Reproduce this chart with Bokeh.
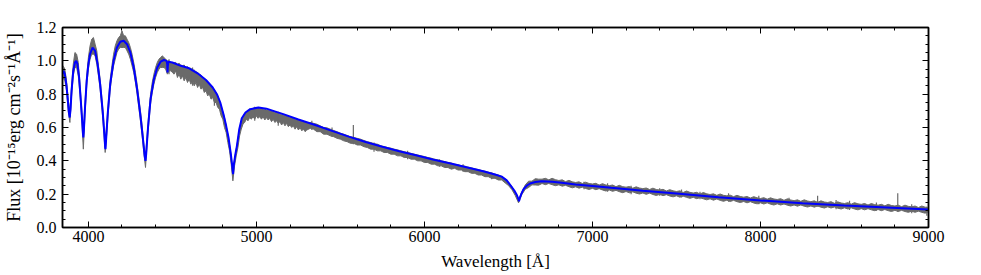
from bokeh.plotting import figure
from bokeh.models import Range1d, LinearAxis, SingleIntervalTicker, PrintfTickFormatter, CustomJSTickFormatter
from bokeh.embed import file_html
from bokeh.resources import INLINE

# ---------------- data ----------------
x_ticks_interval = 1000
y_ticks_interval = 0.2
x_label = "Wavelength [Å]"
y_label = "Flux [10⁻¹⁵erg cm⁻²s⁻¹Å⁻¹]"

# best-fit model spectrum (blue)
model_wave = [3846, 3852, 3860, 3870, 3878, 3884, 3889, 3894, 3900, 3910,
              3920, 3928, 3935, 3945, 3955, 3963, 3968, 3970, 3973, 3980,
              3990, 4000, 4010, 4025, 4040, 4055, 4070, 4085, 4095, 4100,
              4102, 4105, 4115, 4130, 4150, 4170, 4190, 4210, 4230, 4250,
              4270, 4290, 4310, 4325, 4335, 4340, 4344, 4355, 4370, 4390,
              4410, 4430, 4450, 4465, 4469, 4471, 4473, 4477, 4500, 4550,
              4600, 4650, 4700, 4740, 4765, 4785, 4804, 4820, 4834, 4848,
              4856, 4861, 4866, 4875, 4884, 4898, 4913, 4935, 4963, 5012,
              5060, 5100, 5160, 5250, 5350, 5450, 5550, 5650, 5750, 5850,
              5950, 6050, 6150, 6250, 6350, 6420, 6460, 6490, 6511, 6535,
              6550, 6558, 6563, 6568, 6578, 6590, 6610, 6629, 6660, 6698,
              6760, 6817, 6900, 7000, 7112, 7300, 7500, 7750, 8000, 8250,
              8500, 8750, 9000]
model_flux = [0.92, 0.94, 0.92, 0.85, 0.76, 0.69, 0.66, 0.71, 0.82, 0.94,
              0.99, 1.00, 0.98, 0.90, 0.76, 0.64, 0.56, 0.54, 0.58, 0.72,
              0.88, 0.98, 1.04, 1.08, 1.06, 0.98, 0.86, 0.70, 0.56, 0.48,
              0.47, 0.52, 0.68, 0.86, 1.00, 1.08, 1.115, 1.12, 1.10, 1.05,
              0.96, 0.83, 0.67, 0.53, 0.43, 0.40, 0.44, 0.60, 0.77, 0.89,
              0.96, 0.995, 1.005, 1.00, 0.98, 0.93, 0.97, 0.995, 0.99, 0.97,
              0.955, 0.925, 0.885, 0.84, 0.80, 0.75, 0.68, 0.61, 0.54, 0.44,
              0.37, 0.32, 0.38, 0.44, 0.49, 0.59, 0.655, 0.69, 0.71, 0.72,
              0.713, 0.70, 0.68, 0.648, 0.615, 0.58, 0.545, 0.513, 0.485, 0.458,
              0.433, 0.408, 0.385, 0.361, 0.338, 0.318, 0.305, 0.283, 0.255, 0.222,
              0.195, 0.175, 0.158, 0.178, 0.205, 0.23, 0.252, 0.264, 0.273, 0.278,
              0.275, 0.268, 0.258, 0.249, 0.238, 0.221, 0.204, 0.182, 0.162, 0.146,
              0.132, 0.12, 0.108]

# observed spectrum (grey): lower / upper envelope of the noisy trace
obs_wave_blue = [3846, 3850, 3860, 3870, 3880, 3890, 3900, 3910, 3920, 3930,
                 3940, 3950, 3960, 3970, 3980, 3990, 4000, 4010, 4020, 4030,
                 4040, 4050, 4060, 4070, 4080, 4090, 4100, 4110, 4120, 4130,
                 4140, 4150, 4160, 4170, 4180, 4190, 4200, 4210, 4220, 4230,
                 4240, 4250, 4260, 4270, 4280, 4290, 4300, 4310, 4320, 4330,
                 4340, 4350, 4360, 4370, 4380, 4390, 4400, 4410, 4420, 4430,
                 4440, 4450, 4460, 4470, 4480, 4490, 4500]
obs_lo_blue = [0.88, 0.90, 0.88, 0.82, 0.70, 0.63, 0.79, 0.91, 0.96, 0.96,
               0.91, 0.80, 0.66, 0.47, 0.68, 0.85, 0.95, 1.01, 1.04, 1.04,
               1.03, 0.98, 0.91, 0.83, 0.72, 0.60, 0.45, 0.57, 0.71, 0.83,
               0.91, 0.97, 1.01, 1.05, 1.07, 1.08, 1.08, 1.08, 1.08, 1.06,
               1.04, 1.01, 0.97, 0.93, 0.87, 0.80, 0.72, 0.64, 0.55, 0.45,
               0.36, 0.51, 0.63, 0.74, 0.81, 0.86, 0.90, 0.93, 0.95, 0.96,
               0.96, 0.96, 0.95, 0.92, 0.94, 0.94, 0.93]
obs_hi_blue = [0.95, 0.97, 0.95, 0.88, 0.77, 0.69, 0.85, 0.98, 1.05, 1.04,
               0.99, 0.86, 0.72, 0.56, 0.75, 0.91, 1.02, 1.09, 1.13, 1.14,
               1.10, 1.06, 0.97, 0.89, 0.78, 0.66, 0.50, 0.63, 0.77, 0.89,
               0.97, 1.04, 1.09, 1.12, 1.14, 1.15, 1.18, 1.15, 1.15, 1.13,
               1.11, 1.08, 1.04, 0.99, 0.93, 0.86, 0.78, 0.70, 0.61, 0.50,
               0.42, 0.56, 0.69, 0.80, 0.87, 0.92, 0.96, 0.99, 1.01, 1.02,
               1.03, 1.02, 1.01, 1.00, 1.00, 0.99, 0.99]

obs_wave_green = [4510, 4520, 4530, 4540, 4550, 4560, 4570, 4580, 4590, 4600,
                  4610, 4620, 4630, 4640, 4650, 4660, 4670, 4680, 4690, 4700,
                  4710, 4720, 4730, 4740, 4750, 4760, 4770, 4780, 4790, 4800,
                  4810, 4820, 4830, 4840, 4850, 4860, 4870, 4880, 4890, 4900,
                  4910, 4920, 4930, 4940, 4950, 4960, 4970, 4980, 4990, 5000,
                  5010, 5020, 5030, 5040, 5050, 5060, 5070, 5080, 5090, 5100,
                  5110, 5120, 5130, 5140, 5150, 5160, 5170, 5180, 5190, 5200,
                  5210, 5220, 5230, 5240, 5250, 5260, 5270, 5280, 5290, 5300]
obs_lo_green = [0.92, 0.94, 0.90, 0.92, 0.89, 0.91, 0.88, 0.90, 0.87, 0.89,
                0.86, 0.88, 0.85, 0.87, 0.84, 0.86, 0.83, 0.84, 0.81, 0.82,
                0.79, 0.80, 0.77, 0.78, 0.75, 0.75, 0.72, 0.71, 0.67, 0.65,
                0.60, 0.57, 0.51, 0.46, 0.38, 0.28, 0.37, 0.43, 0.48, 0.55,
                0.59, 0.62, 0.63, 0.65, 0.64, 0.66, 0.65, 0.665, 0.65, 0.67,
                0.655, 0.665, 0.65, 0.665, 0.645, 0.66, 0.645, 0.655, 0.635, 0.65,
                0.63, 0.64, 0.625, 0.635, 0.615, 0.63, 0.61, 0.625, 0.605, 0.615,
                0.60, 0.61, 0.59, 0.605, 0.585, 0.60, 0.58, 0.59, 0.575, 0.585]
obs_hi_green = [0.99, 0.99, 0.98, 0.985, 0.975, 0.97, 0.975, 0.96, 0.965, 0.955,
                0.955, 0.945, 0.945, 0.935, 0.93, 0.92, 0.915, 0.90, 0.895, 0.885,
                0.875, 0.865, 0.85, 0.84, 0.825, 0.81, 0.79, 0.765, 0.73, 0.695,
                0.66, 0.61, 0.56, 0.50, 0.43, 0.33, 0.41, 0.47, 0.53, 0.595,
                0.64, 0.665, 0.685, 0.695, 0.70, 0.71, 0.71, 0.715, 0.72, 0.715,
                0.72, 0.715, 0.72, 0.71, 0.71, 0.705, 0.705, 0.70, 0.70, 0.695,
                0.69, 0.69, 0.685, 0.68, 0.68, 0.675, 0.67, 0.67, 0.665, 0.66,
                0.66, 0.655, 0.65, 0.65, 0.645, 0.64, 0.64, 0.635, 0.635, 0.63]

obs_wave_red = [5320, 5340, 5360, 5380, 5400, 5420, 5440, 5460, 5480, 5500,
                5520, 5540, 5560, 5580, 5600, 5620, 5640, 5660, 5680, 5700,
                5720, 5740, 5760, 5780, 5800, 5820, 5840, 5860, 5880, 5900,
                5920, 5940, 5960, 5980, 6000, 6020, 6040, 6060, 6080, 6100,
                6120, 6140, 6160, 6180, 6200, 6220, 6240, 6260, 6280, 6300,
                6320, 6340, 6360, 6380, 6400, 6420, 6440, 6460, 6480, 6500,
                6520, 6540, 6560, 6580, 6600, 6620, 6640, 6660, 6680, 6700,
                6720, 6740, 6760, 6780, 6800, 6820, 6840, 6860, 6880, 6900,
                6920, 6940, 6960, 6980, 7000, 7020, 7040, 7060, 7080, 7100,
                7120, 7140, 7160, 7180, 7200, 7220, 7240, 7260, 7280, 7300,
                7320, 7340, 7360, 7380, 7400, 7420, 7440, 7460, 7480, 7500,
                7520, 7540, 7560, 7580, 7600, 7620, 7640, 7660, 7680, 7700,
                7720, 7740, 7760, 7780, 7800, 7820, 7840, 7860, 7880, 7900,
                7920, 7940, 7960, 7980, 8000, 8020, 8040, 8060, 8080, 8100,
                8120, 8140, 8160, 8180, 8200, 8220, 8240, 8260, 8280, 8300,
                8320, 8340, 8360, 8380, 8400, 8420, 8440, 8460, 8480, 8500,
                8520, 8540, 8560, 8580, 8600, 8620, 8640, 8660, 8680, 8700,
                8720, 8740, 8760, 8780, 8800, 8820, 8840, 8860, 8880, 8900,
                8920, 8940, 8960, 8980, 9000]
obs_lo_red = [0.595, 0.59, 0.575, 0.575, 0.56, 0.56, 0.55, 0.545, 0.535, 0.53,
              0.52, 0.515, 0.505, 0.505, 0.495, 0.495, 0.485, 0.48, 0.47, 0.47,
              0.46, 0.46, 0.45, 0.45, 0.44, 0.44, 0.43, 0.43, 0.42, 0.42,
              0.41, 0.41, 0.40, 0.40, 0.39, 0.39, 0.38, 0.38, 0.37, 0.37,
              0.36, 0.36, 0.35, 0.355, 0.345, 0.345, 0.335, 0.335, 0.325, 0.325,
              0.315, 0.315, 0.305, 0.305, 0.295, 0.295, 0.285, 0.285, 0.268, 0.252,
              0.228, 0.193, 0.148, 0.198, 0.229, 0.240, 0.256, 0.255, 0.254, 0.264,
              0.257, 0.264, 0.257, 0.251, 0.256, 0.248, 0.253, 0.245, 0.238, 0.244,
              0.236, 0.242, 0.234, 0.228, 0.235, 0.227, 0.233, 0.225, 0.219, 0.225,
              0.217, 0.223, 0.215, 0.209, 0.216, 0.208, 0.214, 0.206, 0.201, 0.207,
              0.199, 0.206, 0.198, 0.192, 0.199, 0.191, 0.197, 0.189, 0.184, 0.190,
              0.182, 0.188, 0.181, 0.175, 0.181, 0.173, 0.179, 0.172, 0.166, 0.172,
              0.164, 0.171, 0.163, 0.157, 0.164, 0.156, 0.163, 0.155, 0.150, 0.156,
              0.148, 0.155, 0.147, 0.142, 0.148, 0.141, 0.148, 0.140, 0.135, 0.142,
              0.135, 0.141, 0.134, 0.129, 0.135, 0.128, 0.135, 0.128, 0.123, 0.129,
              0.122, 0.129, 0.122, 0.117, 0.124, 0.117, 0.123, 0.116, 0.111, 0.118,
              0.111, 0.118, 0.111, 0.106, 0.113, 0.106, 0.113, 0.106, 0.101, 0.108,
              0.101, 0.108, 0.101, 0.096, 0.103, 0.096, 0.103, 0.096, 0.091, 0.098,
              0.091, 0.098, 0.091, 0.086, 0.094]
obs_hi_red = [0.63, 0.625, 0.62, 0.61, 0.60, 0.598, 0.59, 0.582, 0.575, 0.566,
              0.56, 0.552, 0.545, 0.54, 0.535, 0.53, 0.522, 0.515, 0.51, 0.503,
              0.50, 0.49, 0.486, 0.48, 0.476, 0.47, 0.466, 0.46, 0.455, 0.45,
              0.445, 0.44, 0.435, 0.43, 0.426, 0.42, 0.416, 0.41, 0.406, 0.40,
              0.396, 0.39, 0.387, 0.38, 0.377, 0.37, 0.368, 0.362, 0.358, 0.352,
              0.348, 0.342, 0.338, 0.332, 0.327, 0.32, 0.315, 0.307, 0.292, 0.272,
              0.246, 0.21, 0.165, 0.215, 0.255, 0.278, 0.278, 0.293, 0.290, 0.290,
              0.295, 0.286, 0.295, 0.287, 0.282, 0.286, 0.275, 0.283, 0.274, 0.270,
              0.274, 0.264, 0.272, 0.264, 0.261, 0.265, 0.255, 0.263, 0.255, 0.251,
              0.255, 0.245, 0.253, 0.245, 0.242, 0.246, 0.236, 0.244, 0.237, 0.233,
              0.237, 0.228, 0.236, 0.228, 0.225, 0.229, 0.219, 0.227, 0.220, 0.216,
              0.220, 0.210, 0.219, 0.211, 0.207, 0.211, 0.201, 0.210, 0.202, 0.198,
              0.202, 0.193, 0.201, 0.193, 0.190, 0.194, 0.185, 0.193, 0.186, 0.182,
              0.186, 0.177, 0.185, 0.178, 0.174, 0.179, 0.170, 0.178, 0.171, 0.168,
              0.173, 0.163, 0.172, 0.165, 0.161, 0.166, 0.157, 0.166, 0.159, 0.155,
              0.160, 0.151, 0.160, 0.153, 0.150, 0.155, 0.145, 0.154, 0.147, 0.144,
              0.149, 0.140, 0.149, 0.142, 0.139, 0.144, 0.135, 0.144, 0.137, 0.134,
              0.139, 0.130, 0.139, 0.132, 0.129, 0.134, 0.125, 0.134, 0.127, 0.124,
              0.129, 0.120, 0.129, 0.122, 0.120]

# isolated noise spikes / sky-line residuals
spike_wave = [4480, 4620, 4750, 4990, 5130, 5330, 5450, 5577, 5700, 5900,
              6090, 6230, 6400, 6950, 7090, 7230, 7400, 7530, 7640, 7810,
              7990, 8170, 8340, 8450, 8530, 8690, 8817, 8900, 8990]
spike_lo = [0.92, 0.85, 0.73, 0.64, 0.61, 0.585, 0.545, 0.50, 0.455, 0.41,
            0.365, 0.335, 0.29, 0.23, 0.215, 0.20, 0.19, 0.18, 0.17, 0.155,
            0.14, 0.13, 0.125, 0.11, 0.105, 0.10, 0.095, 0.085, 0.07]
spike_hi = [1.01, 0.96, 0.83, 0.725, 0.695, 0.64, 0.60, 0.615, 0.51, 0.46,
            0.41, 0.38, 0.33, 0.275, 0.265, 0.25, 0.235, 0.228, 0.215, 0.205,
            0.19, 0.178, 0.19, 0.165, 0.16, 0.15, 0.205, 0.14, 0.125]

assert len(model_wave) == len(model_flux)
assert len(obs_wave_blue) == len(obs_lo_blue) == len(obs_hi_blue)
assert len(obs_wave_green) == len(obs_lo_green) == len(obs_hi_green)
assert len(obs_wave_red) == len(obs_lo_red) == len(obs_hi_red)
assert len(spike_wave) == len(spike_lo) == len(spike_hi)

obs_wave = obs_wave_blue + obs_wave_green + obs_wave_red
obs_lo = obs_lo_blue + obs_lo_green + obs_lo_red
obs_hi = obs_hi_blue + obs_hi_green + obs_hi_red

# ---------------- figure ----------------
FONT = "Liberation Serif, Times New Roman, serif"
GREY = "#6a6a6a"

p = figure(width=981, height=275, output_backend="svg", toolbar_location=None,
           x_range=Range1d(3846, 9000), y_range=Range1d(0, 1.2000001),
           min_border_left=58, min_border_right=53, min_border_top=27,
           min_border_bottom=48)
p.xgrid.visible = False
p.ygrid.visible = False
p.outline_line_color = "black"
p.outline_line_width = 1.5
p.background_fill_color = "white"
p.border_fill_color = "white"

p.varea(x=obs_wave, y1=obs_lo, y2=obs_hi, fill_color=GREY)
p.line(obs_wave, obs_lo, line_color=GREY, line_width=1)
p.line(obs_wave, obs_hi, line_color=GREY, line_width=1)
p.segment(x0=spike_wave, y0=spike_lo, x1=spike_wave, y1=spike_hi,
          line_color=GREY, line_width=1.2)
p.line(model_wave, model_flux, line_color="#0000ff", line_width=2)


def style_axis(ax):
    ax.major_tick_in = 6
    ax.major_tick_out = 0
    ax.minor_tick_in = 3
    ax.minor_tick_out = 0
    ax.axis_line_width = 1.5
    ax.axis_line_color = "black"
    ax.major_tick_line_color = "black"
    ax.minor_tick_line_color = "black"
    ax.major_label_text_font = FONT
    ax.major_label_text_font_size = "16px"
    ax.major_label_text_color = "black"
    ax.axis_label_text_font = FONT
    ax.axis_label_text_font_style = "normal"
    ax.axis_label_text_font_size = "17px"
    ax.axis_label_text_color = "black"


xax = p.xaxis[0]
xax.ticker = SingleIntervalTicker(interval=x_ticks_interval, num_minor_ticks=5)
xax.axis_label = x_label
style_axis(xax)
xax.major_label_standoff = 3
xax.axis_label_standoff = 7

yax = p.yaxis[0]
yax.ticker = SingleIntervalTicker(interval=y_ticks_interval, num_minor_ticks=4)
yax.formatter = PrintfTickFormatter(format="%.1f")
yax.axis_label = y_label
style_axis(yax)
yax.axis_label_text_font_size = "18px"
yax.major_label_standoff = 6
yax.axis_label_standoff = 10

blank = CustomJSTickFormatter(code="return ''")
top = LinearAxis(ticker=SingleIntervalTicker(interval=x_ticks_interval, num_minor_ticks=5),
                 formatter=blank)
style_axis(top)
top.major_label_standoff = 0
top.major_label_text_font_size = "1px"
p.add_layout(top, "above")

right = LinearAxis(ticker=SingleIntervalTicker(interval=y_ticks_interval, num_minor_ticks=4),
                   formatter=blank)
style_axis(right)
right.major_label_standoff = 0
right.major_label_text_font_size = "1px"
p.add_layout(right, "right")

open("out.html", "w").write(file_html(p, INLINE))
